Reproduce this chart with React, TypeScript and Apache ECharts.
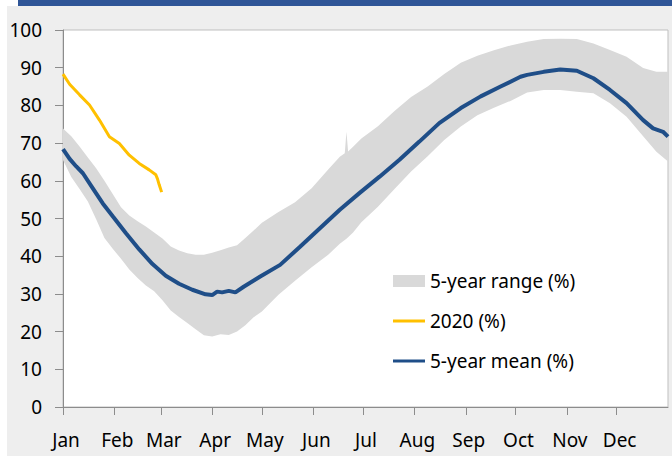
import React, { useEffect, useRef } from "react";
import * as echarts from "echarts";

const monthLabels = ["Jan", "Feb", "Mar", "Apr", "May", "Jun", "Jul", "Aug", "Sep", "Oct", "Nov", "Dec"];
const monthStartDays = [0, 31, 59, 90, 120, 151, 181, 212, 243, 273, 304, 334];
const yTicks = [0, 10, 20, 30, 40, 50, 60, 70, 80, 90, 100];

// 5-year range (%): band lower and upper bounds, day of year
const bandDays = [0, 5, 10, 15, 20, 25, 30, 35, 40, 45, 50, 55, 60, 65, 70, 75, 80, 85, 90, 95, 100, 105, 110, 115, 120, 130, 140, 150, 160, 167, 170, 171, 172, 175, 180, 190, 200, 210, 220, 230, 240, 250, 260, 270, 280, 290, 300, 310, 320, 330, 340, 350, 358, 365];
const bandUpper = [73.9, 71.8, 69.1, 66.2, 63.3, 60.0, 56.5, 53.0, 50.8, 49.3, 47.9, 46.3, 44.7, 42.6, 41.5, 40.8, 40.4, 40.4, 40.9, 41.6, 42.3, 42.9, 44.8, 46.8, 48.9, 51.7, 54.3, 58.0, 63.0, 66.4, 67.3, 73.0, 67.8, 69.0, 71.2, 74.5, 78.5, 82.2, 85.0, 88.3, 91.3, 93.2, 94.6, 95.9, 96.9, 97.6, 97.7, 97.6, 96.4, 94.7, 92.9, 89.9, 88.9, 88.9];
const bandLower = [65.5, 61.0, 57.8, 54.5, 49.8, 44.8, 42.0, 39.3, 36.5, 34.2, 32.2, 30.7, 28.3, 25.6, 23.9, 22.3, 20.6, 19.0, 18.7, 19.3, 19.1, 20.0, 21.7, 23.8, 25.3, 29.8, 33.5, 37.1, 40.4, 43.3, 44.3, 44.6, 45.0, 46.3, 49.0, 53.1, 57.8, 62.5, 66.5, 70.8, 74.4, 77.4, 79.4, 81.2, 83.4, 84.1, 84.1, 83.6, 83.2, 80.6, 77.0, 71.8, 67.7, 65.1];

// 5-year mean (%)
const meanDays = [0, 4, 8, 12, 18, 24, 30, 38, 46, 54, 62, 70, 78, 86, 90, 93, 96, 100, 104, 109, 119, 131, 143, 155, 167, 179, 191, 203, 215, 227, 240, 252, 264, 276, 280, 290, 300, 310, 320, 330, 340, 350, 356, 362, 365];
const meanValues = [68.4, 65.8, 63.8, 62.0, 58.0, 54.0, 50.6, 46.1, 41.8, 37.9, 34.8, 32.7, 31.1, 29.9, 29.7, 30.6, 30.4, 30.8, 30.4, 31.9, 34.6, 37.7, 42.5, 47.4, 52.3, 56.8, 61.1, 65.6, 70.4, 75.3, 79.3, 82.4, 85.0, 87.6, 88.1, 88.9, 89.5, 89.2, 87.2, 84.1, 80.6, 76.1, 73.9, 73.0, 71.7];

// 2020 (%)
const y2020Days = [0, 4, 10, 16, 22, 28, 34, 40, 46, 52, 56, 57, 58, 59.5];
const y2020Values = [88.3, 85.6, 82.8, 80.1, 76.1, 71.7, 69.9, 66.8, 64.6, 62.9, 61.6, 60.5, 59.0, 57.0];

const FONT = "'Noto Sans', 'Open Sans', sans-serif";
const BAND = "#D9D9D9";
const MEAN = "#1F4E88";
const Y2020 = "#FFC000";

export default function App() {
  const ref = useRef<HTMLDivElement>(null);

  useEffect(() => {
    if (!ref.current) return;
    const chart = echarts.init(ref.current, undefined, { renderer: "svg" });

    const meanData = meanDays.map((d, i) => [d, meanValues[i]]);
    const data2020 = y2020Days.map((d, i) => [d, y2020Values[i]]);

    const lineIcon = "path://M0 0H32V3H0Z";

    chart.setOption({
      animation: false,
      textStyle: { fontFamily: FONT },
      grid: {
        left: 63,
        top: 30,
        right: 4,
        bottom: 49,
        show: true,
        backgroundColor: "#FFFFFF",
        borderColor: "#BFBFBF",
        borderWidth: 1,
      },
      legend: {
        orient: "vertical",
        left: 388,
        top: 266,
        itemWidth: 32,
        itemHeight: 12,
        itemGap: 20,
        symbolKeepAspect: true,
        textStyle: { fontFamily: FONT, fontSize: 19, color: "#000", lineHeight: 20 },
        data: [
          { name: "5-year range (%)", icon: "rect", itemStyle: { color: BAND, borderWidth: 0, opacity: 1 } },
          { name: "2020 (%)", icon: lineIcon, itemStyle: { color: Y2020, borderWidth: 0 } },
          { name: "5-year mean (%)", icon: lineIcon, itemStyle: { color: MEAN, borderWidth: 0 } },
        ],
      },
      xAxis: {
        type: "value",
        min: 0,
        max: 365,
        splitLine: { show: false },
        axisLine: { show: true, lineStyle: { color: "#8C8C8C", width: 1 } },
        axisTick: {
          show: true,
          length: 8,
          customValues: monthStartDays,
          lineStyle: { color: "#8C8C8C" },
        },
        axisLabel: {
          customValues: monthStartDays,
          margin: 23,
          fontSize: 19,
          color: "#000",
          fontFamily: FONT,
          padding: [0, 0, 0, 6],
          formatter: (v: number) => {
            const idx = monthStartDays.indexOf(Math.round(v));
            return idx >= 0 ? monthLabels[idx] : "";
          },
        },
      },
      yAxis: {
        type: "value",
        min: 0,
        max: 100,
        interval: 10,
        splitLine: { show: false },
        axisLine: { show: true, lineStyle: { color: "#8C8C8C", width: 1 } },
        axisTick: { show: true, length: 8, lineStyle: { color: "#8C8C8C" } },
        axisLabel: {
          margin: 21,
          fontSize: 19,
          color: "#000",
          fontFamily: FONT,
          formatter: (v: number) => (yTicks.indexOf(v) >= 0 ? String(v) : ""),
        },
      },
      series: [
        {
          name: "5-year range (%)",
          type: "custom",
          silent: true,
          clip: true,
          itemStyle: { color: BAND },
          data: [[0, 0]],
          encode: { x: 0, y: 1 },
          renderItem: (_params: any, api: any) => {
            const pts: number[][] = [];
            for (let i = 0; i < bandDays.length; i++) pts.push(api.coord([bandDays[i], bandUpper[i]]));
            for (let i = bandDays.length - 1; i >= 0; i--) pts.push(api.coord([bandDays[i], bandLower[i]]));
            return {
              type: "polygon",
              shape: { points: pts },
              style: { fill: BAND, stroke: "none" },
            };
          },
        },
        {
          name: "5-year mean (%)",
          type: "line",
          data: meanData,
          symbol: "none",
          itemStyle: { color: MEAN },
          lineStyle: { color: MEAN, width: 4 },
        },
        {
          name: "2020 (%)",
          type: "line",
          data: data2020,
          symbol: "none",
          itemStyle: { color: Y2020 },
          lineStyle: { color: Y2020, width: 3 },
        },
      ],
    });

    return () => {
      chart.dispose();
    };
  }, []);

  return (
    <div style={{ position: "absolute", left: 0, top: 0, width: 672, height: 456, background: "#FFFFFF", overflow: "hidden" }}>
      <div style={{ position: "absolute", left: 7, top: 6, width: 665, height: 450, background: "#EEEEEE" }} />
      <div style={{ position: "absolute", left: 18, top: 0, width: 654, height: 6, background: "#2F5597" }} />
      <div ref={ref} style={{ position: "absolute", left: 0, top: 0, width: 672, height: 456 }} />
    </div>
  );
}
